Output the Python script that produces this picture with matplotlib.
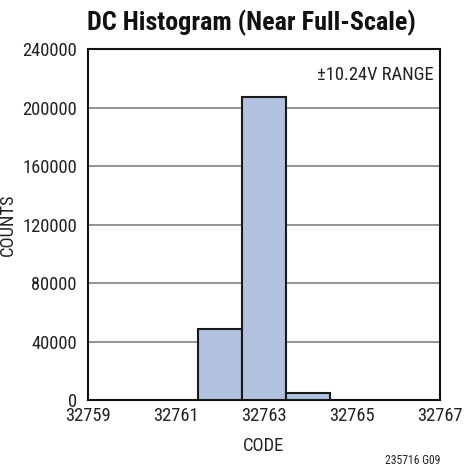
import matplotlib
matplotlib.use('Agg')
import matplotlib.pyplot as plt

# 数据
codes = [32762, 32763, 32764]
counts = [48900, 207200, 5200]
x_ticks = [32759, 32761, 32763, 32765, 32767]
y_ticks = [0, 40000, 80000, 120000, 160000, 200000, 240000]

plt.rcParams['font.family'] = ['Roboto Condensed', 'Liberation Sans Narrow', 'DejaVu Sans']
txt = '#222222'
fs = 13.3

fig = plt.figure(figsize=(4.66, 4.67), dpi=100)
ax = fig.add_axes([0.1888, 0.1428, 0.7552, 0.7522])

ax.bar(codes, counts, width=1.0, color='#b1c1df', edgecolor='#1a1a1a', linewidth=1.5, zorder=3)

ax.set_xlim(32759, 32767)
ax.set_ylim(0, 240000)
ax.set_xticks(x_ticks)
ax.set_yticks(y_ticks)
ax.set_xticklabels([str(v) for v in x_ticks], fontsize=fs, color=txt)
ax.set_yticklabels([str(v) for v in y_ticks], fontsize=fs, color=txt)
ax.tick_params(axis='x', length=0, pad=4.5)
ax.tick_params(axis='y', length=0, pad=8)
ax.yaxis.grid(True, color='#808080', linewidth=1.2, zorder=1)
ax.set_axisbelow(True)
for s in ax.spines.values():
    s.set_linewidth(1.5)
    s.set_color('#111111')

fig.text(263 / 466, 1 - 450.7 / 467, 'CODE', fontsize=fs, color=txt, ha='center', va='baseline')
fig.text(17 / 466, 0.518, 'COUNTS', rotation=90, fontsize=fs, color=txt, ha='right', va='center')
ax.text(433.3 / 466, 1 - 80 / 467, '±10.24V RANGE', transform=fig.transFigure, fontsize=fs, color=txt,
        ha='right', va='baseline')
fig.text(251 / 466, 1 - 30.7 / 467, 'DC Histogram (Near Full-Scale)', fontsize=18.8, fontweight='bold',
         color='#111111', ha='center', va='baseline')
fig.text(440 / 466, 1 - 464.5 / 467, '235716 G09', fontsize=8.4, color=txt, ha='right', va='baseline')

fig.savefig('out.png', dpi=100)
